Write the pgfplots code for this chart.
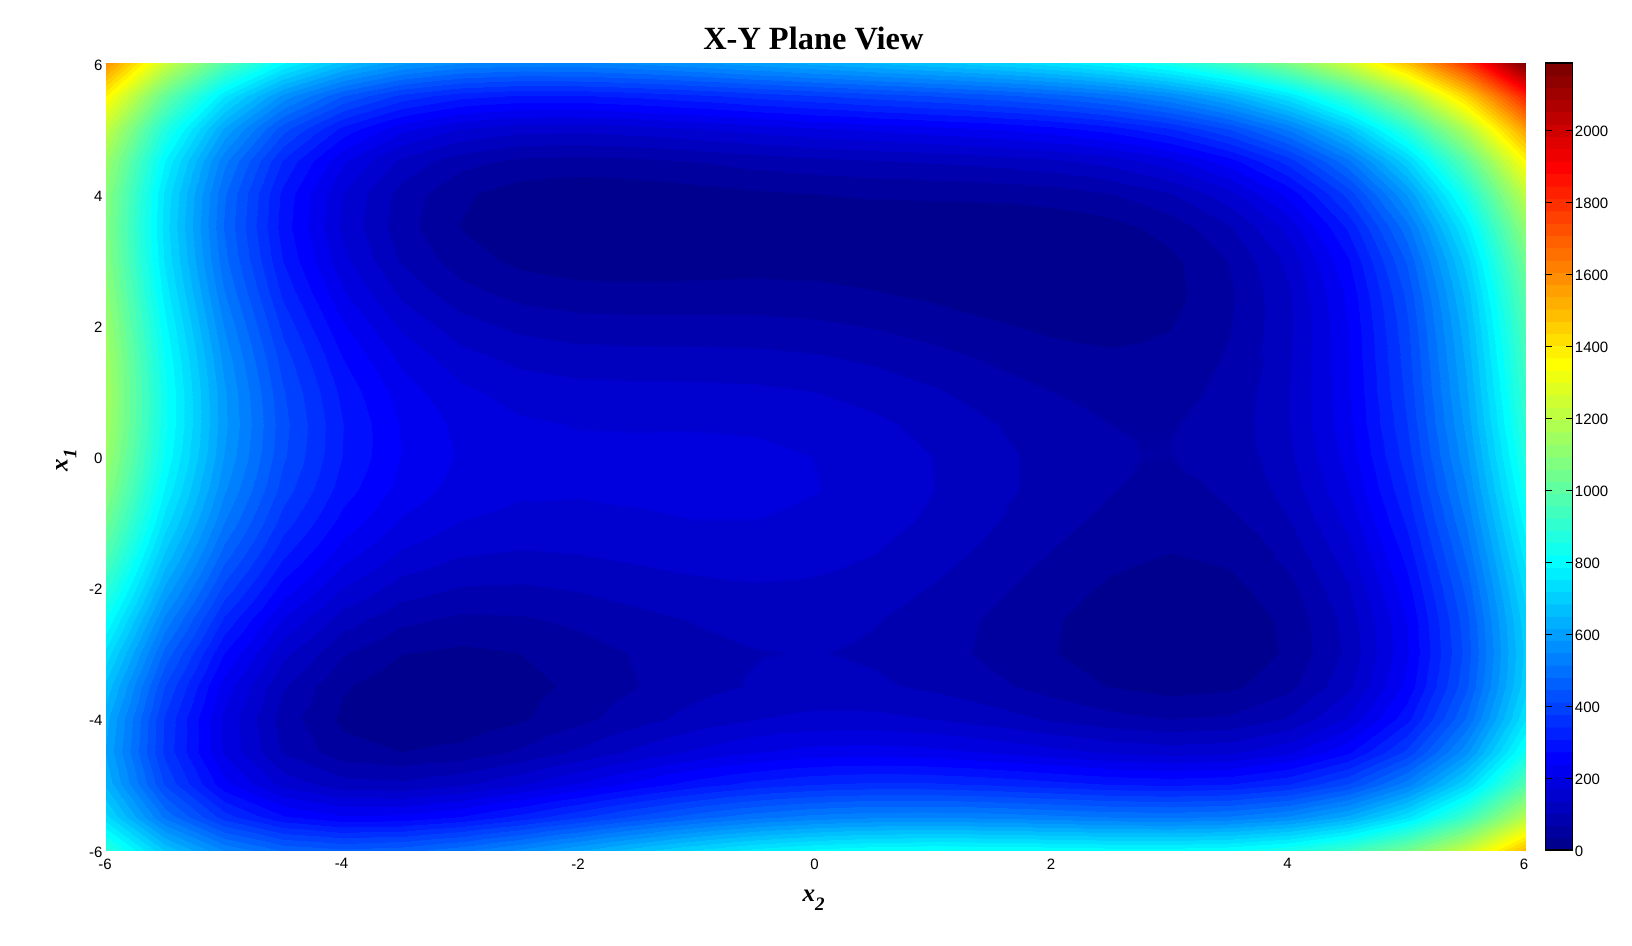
\documentclass[border=0pt]{standalone}
\usepackage{pgfplots}
\pgfplotsset{compat=1.18}
\usepackage{fontspec}
\setmainfont{Liberation Sans}
\newfontfamily\ser{Liberation Serif}
\pgfplotsset{colormap={jet64}{
rgb(0pt)=(0,0,0.5625) rgb(9.8pt)=(0,0,0.5625) rgb(10.2pt)=(0,0,0.625) rgb(19.8pt)=(0,0,0.625)
rgb(20.2pt)=(0,0,0.6875) rgb(29.8pt)=(0,0,0.6875) rgb(30.2pt)=(0,0,0.75) rgb(39.8pt)=(0,0,0.75)
rgb(40.2pt)=(0,0,0.8125) rgb(49.8pt)=(0,0,0.8125) rgb(50.2pt)=(0,0,0.875) rgb(59.8pt)=(0,0,0.875)
rgb(60.2pt)=(0,0,0.9375) rgb(69.8pt)=(0,0,0.9375) rgb(70.2pt)=(0,0,1) rgb(79.8pt)=(0,0,1)
rgb(80.2pt)=(0,0.0625,1) rgb(89.8pt)=(0,0.0625,1) rgb(90.2pt)=(0,0.125,1) rgb(99.8pt)=(0,0.125,1)
rgb(100.2pt)=(0,0.1875,1) rgb(109.8pt)=(0,0.1875,1) rgb(110.2pt)=(0,0.25,1) rgb(119.8pt)=(0,0.25,1)
rgb(120.2pt)=(0,0.3125,1) rgb(129.8pt)=(0,0.3125,1) rgb(130.2pt)=(0,0.375,1) rgb(139.8pt)=(0,0.375,1)
rgb(140.2pt)=(0,0.4375,1) rgb(149.8pt)=(0,0.4375,1) rgb(150.2pt)=(0,0.5,1) rgb(159.8pt)=(0,0.5,1)
rgb(160.2pt)=(0,0.5625,1) rgb(169.8pt)=(0,0.5625,1) rgb(170.2pt)=(0,0.625,1) rgb(179.8pt)=(0,0.625,1)
rgb(180.2pt)=(0,0.6875,1) rgb(189.8pt)=(0,0.6875,1) rgb(190.2pt)=(0,0.75,1) rgb(199.8pt)=(0,0.75,1)
rgb(200.2pt)=(0,0.8125,1) rgb(209.8pt)=(0,0.8125,1) rgb(210.2pt)=(0,0.875,1) rgb(219.8pt)=(0,0.875,1)
rgb(220.2pt)=(0,0.9375,1) rgb(229.8pt)=(0,0.9375,1) rgb(230.2pt)=(0,1,1) rgb(239.8pt)=(0,1,1)
rgb(240.2pt)=(0.0625,1,0.9375) rgb(249.8pt)=(0.0625,1,0.9375) rgb(250.2pt)=(0.125,1,0.875) rgb(259.8pt)=(0.125,1,0.875)
rgb(260.2pt)=(0.1875,1,0.8125) rgb(269.8pt)=(0.1875,1,0.8125) rgb(270.2pt)=(0.25,1,0.75) rgb(279.8pt)=(0.25,1,0.75)
rgb(280.2pt)=(0.3125,1,0.6875) rgb(289.8pt)=(0.3125,1,0.6875) rgb(290.2pt)=(0.375,1,0.625) rgb(299.8pt)=(0.375,1,0.625)
rgb(300.2pt)=(0.4375,1,0.5625) rgb(309.8pt)=(0.4375,1,0.5625) rgb(310.2pt)=(0.5,1,0.5) rgb(319.8pt)=(0.5,1,0.5)
rgb(320.2pt)=(0.5625,1,0.4375) rgb(329.8pt)=(0.5625,1,0.4375) rgb(330.2pt)=(0.625,1,0.375) rgb(339.8pt)=(0.625,1,0.375)
rgb(340.2pt)=(0.6875,1,0.3125) rgb(349.8pt)=(0.6875,1,0.3125) rgb(350.2pt)=(0.75,1,0.25) rgb(359.8pt)=(0.75,1,0.25)
rgb(360.2pt)=(0.8125,1,0.1875) rgb(369.8pt)=(0.8125,1,0.1875) rgb(370.2pt)=(0.875,1,0.125) rgb(379.8pt)=(0.875,1,0.125)
rgb(380.2pt)=(0.9375,1,0.0625) rgb(389.8pt)=(0.9375,1,0.0625) rgb(390.2pt)=(1,1,0) rgb(399.8pt)=(1,1,0)
rgb(400.2pt)=(1,0.9375,0) rgb(409.8pt)=(1,0.9375,0) rgb(410.2pt)=(1,0.875,0) rgb(419.8pt)=(1,0.875,0)
rgb(420.2pt)=(1,0.8125,0) rgb(429.8pt)=(1,0.8125,0) rgb(430.2pt)=(1,0.75,0) rgb(439.8pt)=(1,0.75,0)
rgb(440.2pt)=(1,0.6875,0) rgb(449.8pt)=(1,0.6875,0) rgb(450.2pt)=(1,0.625,0) rgb(459.8pt)=(1,0.625,0)
rgb(460.2pt)=(1,0.5625,0) rgb(469.8pt)=(1,0.5625,0) rgb(470.2pt)=(1,0.5,0) rgb(479.8pt)=(1,0.5,0)
rgb(480.2pt)=(1,0.4375,0) rgb(489.8pt)=(1,0.4375,0) rgb(490.2pt)=(1,0.375,0) rgb(499.8pt)=(1,0.375,0)
rgb(500.2pt)=(1,0.3125,0) rgb(509.8pt)=(1,0.3125,0) rgb(510.2pt)=(1,0.25,0) rgb(519.8pt)=(1,0.25,0)
rgb(520.2pt)=(1,0.1875,0) rgb(529.8pt)=(1,0.1875,0) rgb(530.2pt)=(1,0.125,0) rgb(539.8pt)=(1,0.125,0)
rgb(540.2pt)=(1,0.0625,0) rgb(549.8pt)=(1,0.0625,0) rgb(550.2pt)=(1,0,0) rgb(559.8pt)=(1,0,0)
rgb(560.2pt)=(0.9375,0,0) rgb(569.8pt)=(0.9375,0,0) rgb(570.2pt)=(0.875,0,0) rgb(579.8pt)=(0.875,0,0)
rgb(580.2pt)=(0.8125,0,0) rgb(589.8pt)=(0.8125,0,0) rgb(590.2pt)=(0.75,0,0) rgb(599.8pt)=(0.75,0,0)
rgb(600.2pt)=(0.6875,0,0) rgb(609.8pt)=(0.6875,0,0) rgb(610.2pt)=(0.625,0,0) rgb(619.8pt)=(0.625,0,0)
rgb(620.2pt)=(0.5625,0,0) rgb(629.8pt)=(0.5625,0,0) rgb(630.2pt)=(0.5,0,0) rgb(640pt)=(0.5,0,0)
}}
\begin{document}
\begin{tikzpicture}[x=1pt,y=1pt]
\useasboundingbox (0,0) rectangle (1632,945);
\begin{axis}[
  at={(106pt,95pt)}, anchor=south west,
  scale only axis, width=1419pt, height=787pt,
  view={0}{90},
  xmin=-6, xmax=6, ymin=-6, ymax=6,
  xtick={-6,-4,-2,0,2,4,6}, ytick={-6,-4,-2,0,2,4,6},
  xticklabels={-6,-4,-2,0,2,4,6}, yticklabels={-6,-4,-2,0,2,4,6},
  tick label style={font=\fontsize{15}{15}\selectfont},
  xticklabel style={yshift=-5pt, xshift=-1pt},
  yticklabel style={yshift=-2pt},
  major tick length=0pt,
  axis line style={draw=none},
  title={\ser\bfseries\fontsize{32.4}{33}\selectfont X-Y Plane View},
  title style={at={(0.4985,1)}, anchor=south, yshift=3pt},
  xlabel={\ser\bfseries\itshape\fontsize{25}{25}\selectfont x\raisebox{-0.35em}{\fontsize{19}{19}\selectfont 2}},
  ylabel={\ser\bfseries\itshape\fontsize{25}{25}\selectfont x\raisebox{-0.35em}{\fontsize{19}{19}\selectfont 1}},
  xlabel style={yshift=-14pt, xshift=-2pt},
  ylabel style={yshift=6pt, xshift=-4pt},
  colormap name=jet64,
  point meta min=0, point meta max=2186,
]
\addplot3[surf, shader=interp, mesh/cols=25] table[x expr={mod(\coordindex,25)*0.5-6}, y expr={floor((\coordindex+0.5)/25)*0.5-6}, z index=0] {
890
678
544
473
450
463
500
552
610
668
720
763
794
813
820
818
810
802
800
813
850
923
1044
1228
1490
728
504
359
278
245
248
276
320
370
420
465
502
527
540
542
536
524
512
507
518
553
624
744
928
1190
640
405
250
158
116
110
130
165
208
251
290
320
340
348
346
335
320
305
298
306
340
410
530
713
976
611
366
200
99
48
34
45
73
109
146
178
203
218
222
215
201
183
166
156
163
196
266
385
569
833
626
371
196
86
26
4
8
29
58
89
116
136
146
146
136
119
98
79
68
74
106
176
296
481
746
673
408
224
106
38
8
5
20
43
68
90
106
112
108
95
76
53
32
20
26
58
128
249
436
703
740
466
274
147
72
35
26
34
52
72
90
101
104
97
82
60
36
14
2
7
40
111
234
422
692
818
536
335
201
119
76
60
63
76
92
105
113
113
104
86
63
38
16
3
9
43
116
240
431
704
898
608
400
259
170
121
100
98
106
118
128
133
130
119
100
76
50
28
16
23
58
133
260
454
730
974
676
461
314
219
164
138
132
136
144
151
154
149
136
116
92
66
44
33
42
79
156
286
484
764
1040
735
514
360
260
200
170
159
160
165
170
170
164
150
130
105
80
59
50
60
100
180
314
515
800
1093
782
554
395
290
226
191
177
175
178
180
179
172
158
137
113
89
70
62
75
118
202
339
545
835
1130
813
580
416
306
238
200
183
178
179
180
178
170
156
136
113
90
73
68
84
130
218
360
571
866
1151
828
590
422
308
236
195
176
169
168
168
166
158
144
125
104
83
68
66
86
136
228
375
592
893
1156
828
586
413
296
221
178
156
148
146
146
143
136
123
106
86
68
56
58
81
136
233
386
608
916
1148
816
569
393
273
196
150
127
118
116
115
113
107
96
80
63
48
40
45
73
133
236
394
623
938
1130
794
544
365
242
163
116
92
82
80
80
79
74
65
52
38
26
22
32
65
130
239
404
640
962
1108
768
515
334
209
128
80
56
46
44
45
46
43
36
26
16
8
8
23
62
133
248
420
664
994
1088
745
490
306
180
98
50
25
16
15
18
20
20
16
10
3
0
5
26
70
148
270
450
701
1040
1079
734
476
291
164
82
33
9
1
2
6
11
14
14
11
9
11
22
48
99
184
314
501
761
1109
1090
743
484
298
170
88
40
17
10
13
20
28
34
38
40
43
50
67
100
158
250
388
584
853
1210
1133
784
524
338
210
128
81
60
55
60
70
82
92
100
107
116
129
152
192
258
358
504
709
988
1355
1220
870
610
423
296
215
170
150
148
156
170
185
200
213
226
240
260
290
338
411
520
675
890
1178
1556
1366
1016
755
569
443
364
320
303
304
316
333
353
373
392
410
431
458
496
551
633
751
916
1140
1439
1828
1586
1236
976
791
666
589
548
534
538
554
576
601
626
651
676
704
738
784
848
939
1066
1241
1476
1786
2186
};
\addplot3[surf, shader=interp, mesh/cols=9] table[x expr={mod(\coordindex,9)*0.25+2}, y expr={floor((\coordindex+0.5)/9)*0.25-1.5}, z index=0] {
65.8
54.1
44.1
36.9
33.3
34.5
41.6
55.9
78.8
73.4
61.8
52.1
45.2
42.0
43.6
51.3
66.1
89.6
80
68.7
59.3
52.8
50
52.1
60.3
75.8
100
85.3
74.3
65.3
59.1
56.9
59.6
68.4
84.6
109.5
88.8
78.2
69.6
64
62.3
65.6
75.1
92.1
117.8
90.4
80.3
72.2
67.1
66.1
70.1
80.3
98.1
124.7
90
80.3
72.8
68.4
68
72.8
83.8
102.4
130
87.4
78.3
71.4
67.7
68.1
73.6
85.6
105.1
133.7
82.8
74.3
68.1
65.1
66.3
72.8
85.6
106.2
135.8
76.3
68.5
63
60.8
62.9
70.3
84.1
105.8
136.5
68
60.9
56.3
55
58
66.4
81.3
104.1
136
58.4
52.1
48.4
48
52
61.5
77.5
101.5
134.6
47.8
42.4
39.6
40.3
45.3
55.9
73.1
98.3
132.8
};
\end{axis}
\begin{axis}[
  at={(1545.3pt,95pt)}, anchor=south west,
  scale only axis, width=27.4pt, height=787pt,
  view={0}{90},
  xmin=0, xmax=1, ymin=0, ymax=2186,
  xtick=\empty,
  ytick={0,200,400,600,800,1000,1200,1400,1600,1800,2000},
  yticklabels={0,200,400,600,800,1000,1200,1400,1600,1800,2000},
  ytick pos=both, yticklabel pos=right, tick align=inside,
  major tick length=7pt,
  every tick/.style={black, line width=0.8pt},
  axis line style={draw=black, line width=1.1pt},
  yticklabel style={font=\fontsize{15}{15}\selectfont, inner sep=2pt, yshift=-1pt},
  colormap name=jet64,
  point meta min=0, point meta max=2186,
  axis on top,
]
\addplot3[surf, shader=interp, mesh/cols=2] table[x=x, y=y, z=z] {
x y z
0 0 0
1 0 0
0 137 137
1 137 137
0 273 273
1 273 273
0 410 410
1 410 410
0 546 546
1 546 546
0 683 683
1 683 683
0 820 820
1 820 820
0 956 956
1 956 956
0 1093 1093
1 1093 1093
0 1230 1230
1 1230 1230
0 1366 1366
1 1366 1366
0 1503 1503
1 1503 1503
0 1640 1640
1 1640 1640
0 1776 1776
1 1776 1776
0 1913 1913
1 1913 1913
0 2049 2049
1 2049 2049
0 2186 2186
1 2186 2186
};
\end{axis}
\end{tikzpicture}
\end{document}
